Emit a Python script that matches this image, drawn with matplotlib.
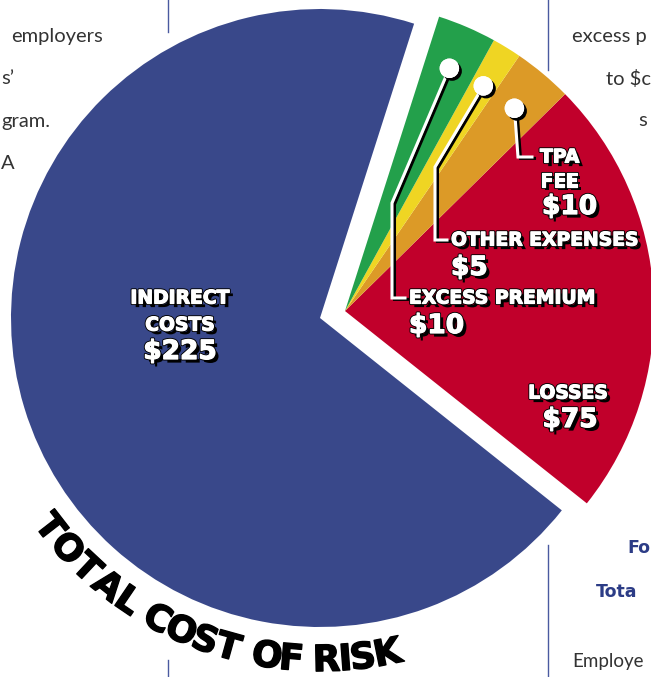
import matplotlib
matplotlib.use('Agg')
import matplotlib.pyplot as plt
import matplotlib.patheffects as pe
import numpy as np
from matplotlib.textpath import TextPath
from matplotlib.font_manager import FontProperties

# data: counter-clockwise order starting at lower right
labels = ['LOSSES', 'TPA FEE', 'OTHER EXPENSES', 'EXCESS PREMIUM', 'INDIRECT COSTS']
values = [75, 10, 5, 10, 225]
amounts = ['$75', '$10', '$5', '$10', '$225']
colors = ['#c1002b', '#dc9a27', '#efd523', '#23a04b', '#39488a']
title = 'TOTAL COST OF RISK'

W, H = 651, 677
fig = plt.figure(figsize=(W / 100, H / 100), dpi=100)
ax = fig.add_axes([0, 0, 1, 1])


def py(y):
    # pixel row -> data y
    return H - y


R = 309
wedges, _ = ax.pie(values, colors=colors, startangle=-38.5, radius=R,
                   wedgeprops=dict(linewidth=0))
ax.set_xlim(0, W)
ax.set_ylim(0, H)
ax.set_aspect('equal')
ax.axis('off')

# blue slice pulled left, the rest pulled right
c_blue = (320, py(318))
c_rest = (345, py(311))
for i, w in enumerate(wedges):
    w.set_center(c_blue if i == 4 else c_rest)

# background page text (only the parts that show)
gray = '#333333'
navy = '#2c3c86'
bg = dict(fontsize=14.5, color=gray, family='Lato', va='baseline')
ax.text(103, py(42), 'employers', ha='right', **bg)
ax.text(1, py(84), 's’', ha='left', **bg)
ax.text(1, py(127), 'gram.', ha='left', **bg)
ax.text(1, py(169), 'A', ha='left', **bg)
ax.text(572, py(42), 'excess p', ha='left', **bg)
ax.text(606, py(85), 'to $c', ha='left', **bg)
ax.text(638, py(126), 's', ha='left', **bg)
ax.text(572, py(667), 'Employe', ha='left', fontsize=13.5, color=gray,
        family='Lato', va='baseline')
ax.text(627, py(553), 'Fo', ha='left', fontsize=12.5, color=navy,
        family='DejaVu Sans', fontweight='bold')
ax.text(596, py(597), 'Tota', ha='left', fontsize=12.5, color=navy,
        family='DejaVu Sans', fontweight='bold')
for x, y0, y1 in [(168, 0, 32), (548, 0, 70), (548, 545, 677), (168, 660, 677)]:
    ax.plot([x, x], [py(y0), py(y1)], color='#4a5aa0', lw=1)

# slice labels: white with black drop shadow
shadow = [pe.withSimplePatchShadow(offset=(2.6, -2.6), shadow_rgbFace='k', alpha=1.0),
          pe.Stroke(linewidth=2.2, foreground='k'),
          pe.Stroke(linewidth=0.9, foreground='white'),
          pe.Normal()]
lab = dict(color='white', family='DejaVu Sans', fontweight='bold',
           path_effects=shadow, va='center')

ax.text(180, py(298), 'INDIRECT', ha='center', fontsize=13.5, **lab)
ax.text(180, py(325), 'COSTS', ha='center', fontsize=13.5, **lab)
ax.text(180, py(352), amounts[4], ha='center', fontsize=19, **lab)

ax.text(568, py(393), labels[0], ha='center', fontsize=13.5, **lab)
ax.text(570, py(420), amounts[0], ha='center', fontsize=19, **lab)

ax.text(540, py(157), 'TPA', ha='left', fontsize=13.5, **lab)
ax.text(540, py(181), 'FEE', ha='left', fontsize=13.5, **lab)
ax.text(542, py(207), amounts[1], ha='left', fontsize=19, **lab)

ax.text(451, py(240), labels[2], ha='left', fontsize=13.5, **lab)
ax.text(451, py(268), amounts[2], ha='left', fontsize=19, **lab)

ax.text(409, py(298), labels[3], ha='left', fontsize=13.5, **lab)
ax.text(409, py(326), amounts[3], ha='left', fontsize=19, **lab)

# leader lines from dots on the small slices
line_fx = [pe.SimpleLineShadow(offset=(1.8, -1.0), shadow_color='k', alpha=1.0),
           pe.Normal()]
bends = {1: [(518, 157), (532, 157)],
         2: [(435, 167), (435, 240), (447, 240)],
         3: [(392, 203), (392, 298), (405, 298)]}
for i, pts in bends.items():
    w = wedges[i]
    mid = np.deg2rad((w.theta1 + w.theta2) / 2)
    dx = c_rest[0] + 0.855 * R * np.cos(mid)
    dy = c_rest[1] + 0.855 * R * np.sin(mid)
    xs = [dx] + [p[0] for p in pts]
    ys = [dy] + [py(p[1]) for p in pts]
    ax.plot(xs, ys, color='white', lw=2.2, solid_joinstyle='miter',
            path_effects=line_fx, zorder=5)
    ax.plot(dx, dy, 'o', ms=14, color='white', mec='none', zorder=6,
            path_effects=[pe.withSimplePatchShadow(offset=(2, -2), shadow_rgbFace='k', alpha=1.0),
                          pe.Normal()])

# curved title under the blue slice
fp = FontProperties(family='DejaVu Sans', weight='bold')
fs = 26
fs_px = fs * 100 / 72
widths = [TextPath((0, 0), ch, size=fs_px, prop=fp).get_extents().width if ch != ' '
          else fs_px * 0.3 for ch in title]
widths = [max(wd, fs_px * 0.3) + fs_px * 0.04 for wd in widths]
cum = np.cumsum(widths) - np.array(widths) / 2
a0, a1 = np.deg2rad(217.8), np.deg2rad(281.4)
ang = a0 + (cum - cum[0]) / (cum[-1] - cum[0]) * (a1 - a0)
r_t = 343
for ch, a in zip(title, ang):
    if ch == ' ':
        continue
    x = c_blue[0] + r_t * np.cos(a)
    y = c_blue[1] + r_t * np.sin(a)
    ax.text(x, y, ch, ha='center', va='center', fontsize=fs,
            family='DejaVu Sans', fontweight='heavy', color='black',
            rotation=np.rad2deg(a) + 90, rotation_mode='anchor',
            path_effects=[pe.Stroke(linewidth=1.0, foreground='k'), pe.Normal()])

fig.savefig('out.png', dpi=100)
